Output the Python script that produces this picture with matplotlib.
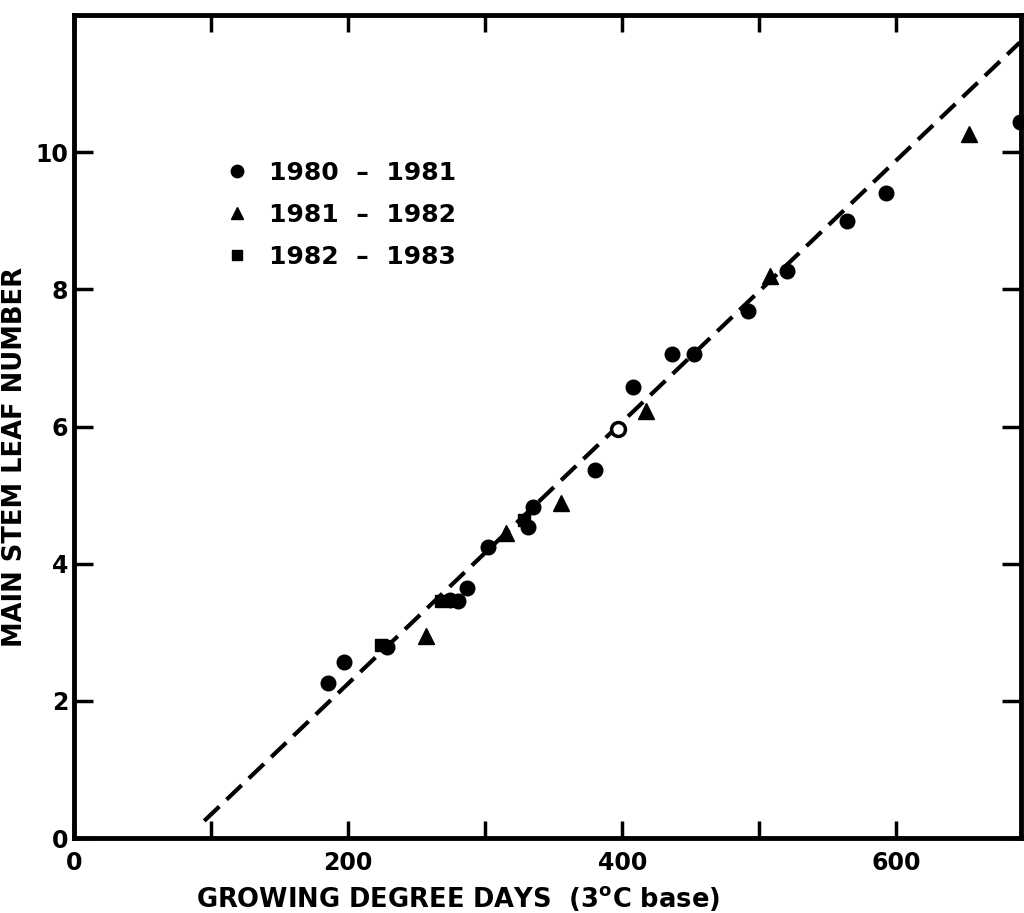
import matplotlib
matplotlib.use("Agg")
import matplotlib.pyplot as plt
from matplotlib.ticker import FixedLocator

plt.rcParams['font.family'] = ['DejaVu Sans']
plt.rcParams['font.weight'] = 'bold'
plt.rcParams['mathtext.default'] = 'bf'

# 1980 - 1981 (circles)
gdd_80 = [185, 197, 228, 274, 280, 287, 302, 331, 335, 380, 408, 436, 452, 492, 520, 564, 592, 690]
leaf_80 = [2.26, 2.57, 2.78, 3.47, 3.45, 3.65, 4.25, 4.54, 4.83, 5.37, 6.57, 7.05, 7.05, 7.68, 8.26, 9.0, 9.4, 10.44]
# 1981 - 1982 (triangles)
gdd_81 = [257, 315, 355, 417, 508, 653]
leaf_81 = [2.95, 4.45, 4.89, 6.22, 8.19, 10.26]
# 1982 - 1983 (squares)
gdd_82 = [224, 268, 328]
leaf_82 = [2.82, 3.45, 4.64]
# hollow point sitting on the fitted line
gdd_open = [397]
leaf_open = [5.96]

# fitted line end points
fit_x = [95, 690]
fit_y = [0.25, 11.6]

fig = plt.figure(figsize=(10.24, 9.13), dpi=100)
ax = fig.add_axes([0.0723, 0.0821, 0.925, 0.9015])

ax.plot(fit_x, fit_y, color='black', lw=3, dashes=(5, 2.4), solid_capstyle='butt')

ax.plot(gdd_80, leaf_80, 'o', color='black', ms=10.5, label='1980  \u2013  1981', clip_on=False)
ax.plot(gdd_81, leaf_81, '^', color='black', ms=11, label='1981  \u2013  1982')
ax.plot(gdd_82, leaf_82, 's', color='black', ms=9, label='1982  \u2013  1983')
ax.plot(gdd_open, leaf_open, 'o', mfc='white', mec='black', mew=2.5, ms=10)

ax.set_xlim(0, 691)
ax.set_ylim(0, 12)

ax.xaxis.set_major_locator(FixedLocator([0, 200, 400, 600]))
ax.xaxis.set_minor_locator(FixedLocator([100, 300, 500]))
ax.yaxis.set_major_locator(FixedLocator([0, 2, 4, 6, 8, 10]))
ax.yaxis.set_minor_locator(FixedLocator([]))

ax.tick_params(which='both', direction='in', length=12, width=2.5,
               top=True, right=True, labelsize=17)
ax.tick_params(axis='x', which='both', pad=9)
ax.tick_params(axis='y', which='both', length=14, pad=4)

for lab in ax.get_xticklabels() + ax.get_yticklabels():
    lab.set_fontweight('bold')

for sp in ax.spines.values():
    sp.set_linewidth(3.5)

ax.set_xlabel('GROWING DEGREE DAYS  (3$^{\\mathbf{o}}$C base)', fontsize=18.5, fontweight='bold')
ax.xaxis.set_label_coords(0.405, -0.056)
ax.set_ylabel('MAIN STEM LEAF NUMBER', fontsize=18.5, fontweight='bold')
ax.yaxis.set_label_coords(-0.049, 0.463)

leg = ax.legend(loc='upper left', bbox_to_anchor=(0.135, 0.85), frameon=False,
                prop={'size': 18, 'weight': 'bold'}, handlelength=1.0,
                handletextpad=0.8, labelspacing=0.72, markerscale=0.85)

fig.savefig('out.png', dpi=100)
